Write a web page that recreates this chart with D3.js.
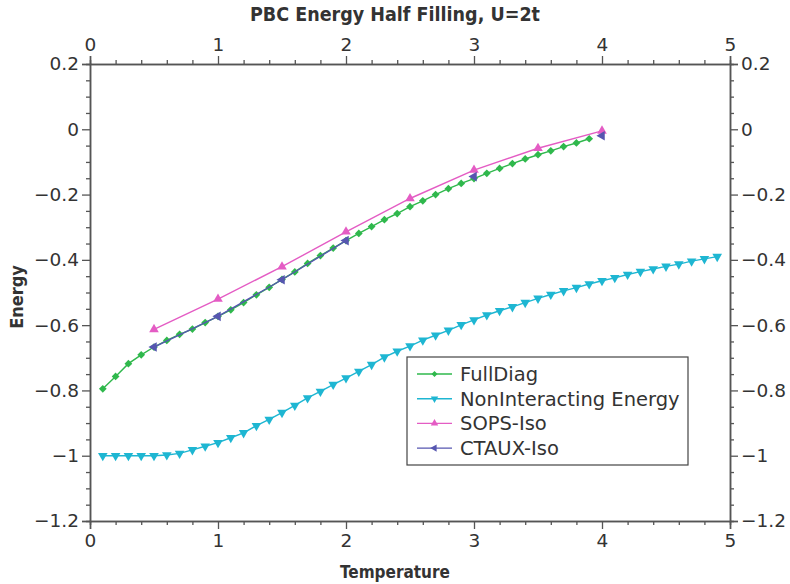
<!DOCTYPE html>
<html>
<head>
<meta charset="utf-8">
<script src="https://cdn.jsdelivr.net/npm/d3@7"></script>
<style>
  body { margin: 0; background: #fff; }
  text { font-family: "DejaVu Sans", sans-serif; fill: #333; }
  .cond { font-family: "DejaVu Sans Condensed", "DejaVu Sans", sans-serif; font-stretch: condensed; }
</style>
</head>
<body>
<div id="chart"></div>
<script>
// Data
var fullDiagT = [0.1,0.2,0.3,0.4,0.5,0.6,0.7,0.8,0.9,1.0,1.1,1.2,1.3,1.4,1.5,1.6,1.7,1.8,1.9,2.0,
                 2.1,2.2,2.3,2.4,2.5,2.6,2.7,2.8,2.9,3.0,3.1,3.2,3.3,3.4,3.5,3.6,3.7,3.8,3.9];
var fullDiagE = [-0.795,-0.757,-0.718,-0.691,-0.667,-0.647,-0.628,-0.612,-0.592,-0.573,-0.553,-0.531,-0.507,-0.484,-0.460,-0.437,-0.411,-0.387,-0.364,-0.341,
                 -0.319,-0.298,-0.277,-0.258,-0.237,-0.219,-0.200,-0.182,-0.166,-0.151,-0.135,-0.120,-0.105,-0.091,-0.078,-0.066,-0.053,-0.042,-0.029];

var nonIntT = [0.1,0.2,0.3,0.4,0.5,0.6,0.7,0.8,0.9,1.0,1.1,1.2,1.3,1.4,1.5,1.6,1.7,1.8,1.9,2.0,
               2.1,2.2,2.3,2.4,2.5,2.6,2.7,2.8,2.9,3.0,3.1,3.2,3.3,3.4,3.5,3.6,3.7,3.8,3.9,4.0,
               4.1,4.2,4.3,4.4,4.5,4.6,4.7,4.8,4.9];
var nonIntE = [-1.0,-1.0,-1.0,-1.0,-1.0,-0.998,-0.993,-0.982,-0.971,-0.960,-0.945,-0.930,-0.908,-0.889,-0.868,-0.846,-0.823,-0.803,-0.782,-0.762,
               -0.742,-0.721,-0.698,-0.680,-0.664,-0.646,-0.631,-0.616,-0.599,-0.584,-0.569,-0.556,-0.544,-0.531,-0.518,-0.506,-0.495,-0.485,-0.474,-0.464,
               -0.455,-0.445,-0.436,-0.428,-0.420,-0.413,-0.404,-0.397,-0.390];

var sopsT = [0.5,1.0,1.5,2.0,2.5,3.0,3.5,4.0];
var sopsE = [-0.613,-0.520,-0.421,-0.314,-0.212,-0.125,-0.058,-0.005];

// the CTAUX line stops after T=2, later points stand alone
var ctauxT = [0.5,1.0,1.5,2.0,2.5,3.0,3.5,4.0];
var ctauxE = [-0.667,-0.573,-0.461,-0.341,null,-0.145,null,-0.020];

var xTicks = [0,1,2,3,4,5];
var yTicks = [0.2,0,-0.2,-0.4,-0.6,-0.8,-1,-1.2];
var legendNames = ["FullDiag","NonInteracting Energy","SOPS-Iso","CTAUX-Iso"];

// Setup
var margin = {top: 64, right: 60, bottom: 63, left: 90},
    width = 790 - margin.left - margin.right,
    height = 584 - margin.top - margin.bottom;

var svg = d3.select("#chart").append("svg")
    .attr("width", 790)
    .attr("height", 584);

var g = svg.append("g")
    .attr("transform", "translate(" + margin.left + "," + margin.top + ")");

var x = d3.scaleLinear().domain([0, 5]).range([0, width]);
var y = d3.scaleLinear().domain([-1.2, 0.2]).range([height, 0]);

var fmtY = function(d) { return d === 0 ? "0" : (d3.format("")(d)).replace("-", "\u2212"); };

function styleAxis(sel) {
    sel.select(".domain").attr("stroke", "#555").attr("stroke-width", 1.5);
    sel.selectAll(".tick line").attr("stroke", "#555").attr("stroke-width", 1.3);
    sel.selectAll(".tick text").style("font-size", "18.5px").attr("fill", "#3a3a3a");
}

// minor ticks
var minorX = d3.range(0, 5.001, 0.2).filter(function(d){ return Math.abs(d - Math.round(d)) > 1e-6; });
var minorY = d3.range(-1.2, 0.2001, 0.05).filter(function(d){ return Math.abs(d*5 - Math.round(d*5)) > 1e-6; });

g.append("g").attr("transform", "translate(0," + height + ")")
    .call(d3.axisBottom(x).tickValues(minorX).tickSize(4).tickFormat(""))
    .call(styleAxis);
g.append("g")
    .call(d3.axisTop(x).tickValues(minorX).tickSize(4).tickFormat(""))
    .call(styleAxis);
g.append("g")
    .call(d3.axisLeft(y).tickValues(minorY).tickSize(4).tickFormat(""))
    .call(styleAxis);
g.append("g").attr("transform", "translate(" + width + ",0)")
    .call(d3.axisRight(y).tickValues(minorY).tickSize(4).tickFormat(""))
    .call(styleAxis);

// major ticks
g.append("g").attr("transform", "translate(0," + height + ")")
    .call(d3.axisBottom(x).tickValues(xTicks).tickSize(8).tickPadding(5).tickFormat(d3.format("d")))
    .call(styleAxis);
g.append("g")
    .call(d3.axisTop(x).tickValues(xTicks).tickSize(8).tickPadding(5).tickFormat(d3.format("d")))
    .call(styleAxis);
g.append("g")
    .call(d3.axisLeft(y).tickValues(yTicks).tickSize(8).tickPadding(3).tickFormat(fmtY))
    .call(styleAxis);
g.append("g").attr("transform", "translate(" + width + ",0)")
    .call(d3.axisRight(y).tickValues(yTicks).tickSize(8).tickPadding(3).tickFormat(fmtY))
    .call(styleAxis);

// Series
var series = [
    {name: legendNames[0], t: fullDiagT, e: fullDiagE, color: "#2fb84c", sym: d3.symbolSquare, size: 30, rot: 45},
    {name: legendNames[1], t: nonIntT, e: nonIntE, color: "#1eb6d2", sym: d3.symbolTriangle, size: 40, rot: 180},
    {name: legendNames[2], t: sopsT, e: sopsE, color: "#e45cc4", sym: d3.symbolTriangle, size: 40, rot: 0},
    {name: legendNames[3], t: ctauxT, e: ctauxE, color: "#5656b0", sym: d3.symbolTriangle, size: 40, rot: -90}
];

var line = d3.line()
    .defined(function(d){ return d[1] !== null; })
    .x(function(d){ return x(d[0]); })
    .y(function(d){ return y(d[1]); });

series.forEach(function(s) {
    var pts = s.t.map(function(t, i){ return [t, s.e[i]]; });
    g.append("path")
        .datum(pts)
        .attr("fill", "none")
        .attr("stroke", s.color)
        .attr("stroke-width", 1.4)
        .attr("d", line);
    g.selectAll(null)
        .data(pts.filter(function(d){ return d[1] !== null; }))
        .enter().append("path")
        .attr("d", d3.symbol().type(s.sym).size(s.size)())
        .attr("fill", s.color)
        .attr("transform", function(d){
            return "translate(" + x(d[0]) + "," + y(d[1]) + ") rotate(" + s.rot + ")";
        });
});

// Legend
var legend = g.append("g").attr("transform", "translate(317,293)");
legend.append("rect")
    .attr("width", 281).attr("height", 108)
    .attr("fill", "#fff").attr("stroke", "#444").attr("stroke-width", 1.2);

series.forEach(function(s, i) {
    var row = legend.append("g").attr("transform", "translate(0," + (17 + i * 24.7) + ")");
    row.append("line").attr("x1", 10).attr("x2", 45)
        .attr("stroke", s.color).attr("stroke-width", 1.4);
    row.append("path").attr("d", d3.symbol().type(s.sym).size(s.size * 0.6)())
        .attr("fill", s.color)
        .attr("transform", "translate(27.5,0) rotate(" + s.rot + ")");
    row.append("text").attr("x", 53).attr("dy", "0.36em")
        .style("font-size", "19.5px").text(s.name);
});

// Titles
svg.append("text")
    .attr("class", "cond")
    .attr("x", 395).attr("y", 21)
    .attr("text-anchor", "middle")
    .style("font-size", "19.5px").style("font-weight", "bold").attr("fill", "#444")
    .text("PBC Energy Half Filling, U=2t");

svg.append("text")
    .attr("class", "cond")
    .attr("x", 395).attr("y", 578)
    .attr("text-anchor", "middle")
    .style("font-size", "17px").style("font-weight", "bold").attr("fill", "#444")
    .text("Temperature");

svg.append("text")
    .attr("class", "cond")
    .attr("transform", "translate(23,297) rotate(-90)")
    .attr("text-anchor", "middle")
    .style("font-size", "18px").style("font-weight", "bold").attr("fill", "#444")
    .text("Energy");
</script>
</body>
</html>
